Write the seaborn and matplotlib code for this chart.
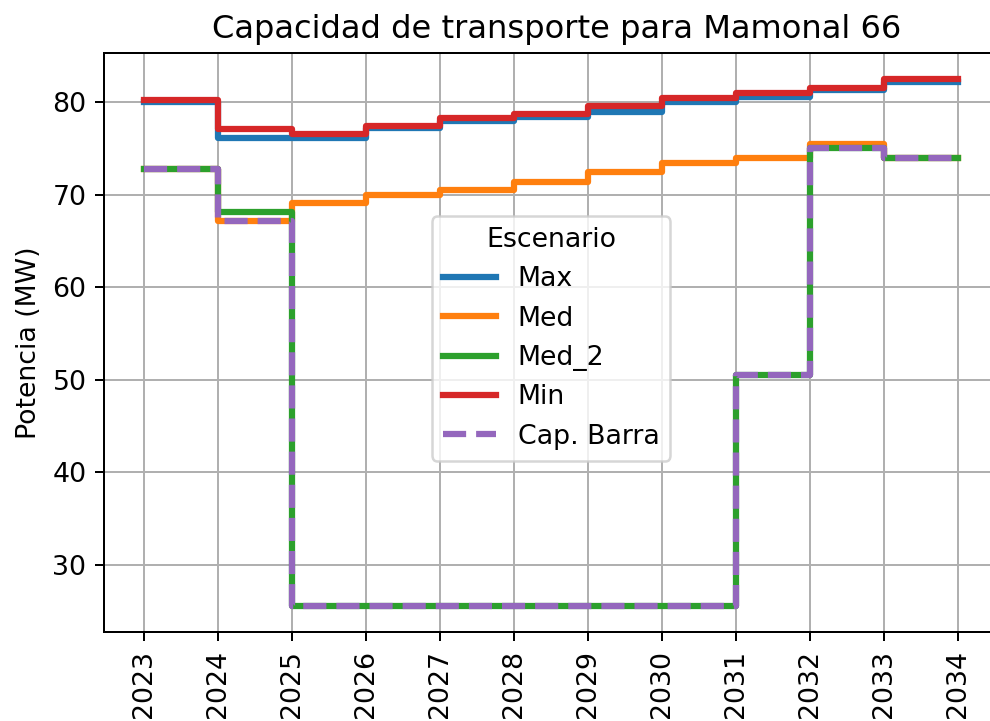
import matplotlib
matplotlib.use("Agg")
import matplotlib.pyplot as plt
import seaborn as sns
import pandas as pd

years = [2023, 2024, 2025, 2026, 2027, 2028, 2029, 2030, 2031, 2032, 2033, 2034]
scenarios = ["Max", "Med", "Med_2", "Min"]
max_vals = [80.0, 76.2, 76.2, 77.2, 78.0, 78.4, 79.0, 80.0, 80.6, 81.3, 82.2, 82.2]
med_vals = [72.8, 67.2, 69.1, 70.0, 70.5, 71.4, 72.5, 73.4, 74.0, 75.5, 74.0, 74.0]
med2_vals = [72.8, 68.2, 25.6, 25.6, 25.6, 25.6, 25.6, 25.6, 50.5, 75.1, 74.0, 74.0]
min_vals = [80.25, 77.1, 76.6, 77.5, 78.3, 78.8, 79.6, 80.5, 81.0, 81.6, 82.5, 82.5]
cap_barra = [72.8, 67.2, 25.6, 25.6, 25.6, 25.6, 25.6, 25.6, 50.5, 75.1, 74.0, 74.0]

title = "Capacidad de transporte para Mamonal 66"
ylabel = "Potencia (MW)"
legend_title = "Escenario"
cap_label = "Cap. Barra"

rows = []
for name, vals in zip(scenarios, [max_vals, med_vals, med2_vals, min_vals]):
    for y, v in zip(years, vals):
        rows.append({"Año": y, "Potencia": v, "Escenario": name})
df = pd.DataFrame(rows)
df_cap = pd.DataFrame({"Año": years, "Potencia": cap_barra})

plt.rcParams["font.family"] = ["DejaVu Sans"]
fs = 10.7
fig = plt.figure(figsize=(990 / 180, 721 / 180), dpi=180)
ax = fig.add_axes([104 / 990, 89 / 721, 906 / 990, 579 / 721])

palette = ["#1f77b4", "#ff7f0e", "#2ca02c", "#d62728"]
sns.lineplot(data=df, x="Año", y="Potencia", hue="Escenario", hue_order=scenarios,
             palette=palette, drawstyle="steps-post", linewidth=2.5, ax=ax)
sns.lineplot(data=df_cap, x="Año", y="Potencia", color="#9467bd", linestyle="--",
             drawstyle="steps-post", linewidth=2.5, label=cap_label, ax=ax)

ax.set_xlim(2023 - 40 / 74, 2034 + 52 / 74)
ax.set_xticks(years)
ax.set_xticklabels([str(y) for y in years], rotation=90)
ax.tick_params(labelsize=fs)
ax.set_xlabel("")
ax.set_ylabel(ylabel, fontsize=fs)
ax.set_title(title, fontsize=12.85)
ax.grid(True, color="#b0b0b0", linewidth=0.8)
ax.set_axisbelow(True)

handles, labels = ax.get_legend_handles_labels()
ax.legend(handles, labels, title=legend_title, loc="upper left",
          bbox_to_anchor=((432 - 104) / 906, 0.718), borderaxespad=0,
          title_fontsize=fs, fontsize=fs)

fig.savefig("out.png", dpi=180)
